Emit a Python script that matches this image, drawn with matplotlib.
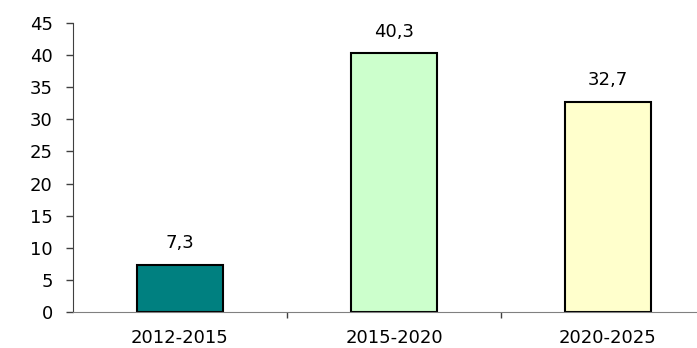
import matplotlib
matplotlib.use("Agg")
import matplotlib.pyplot as plt
from matplotlib.ticker import FixedLocator, NullFormatter

periods = ["2012-2015", "2015-2020", "2020-2025"]
values = [7.3, 40.3, 32.7]
value_labels = ["7,3", "40,3", "32,7"]
bar_colors = ["#008080", "#CCFFCC", "#FFFFCC"]
y_ticks = [0, 5, 10, 15, 20, 25, 30, 35, 40, 45]

plt.rcParams["font.family"] = ["DejaVu Sans"]

fig = plt.figure(figsize=(6.97, 3.48), dpi=100)
# axes run past the right edge, as in the original export
ax = fig.add_axes([73 / 697, 36 / 348, 642 / 697, 289 / 348])

xs = list(range(len(periods)))
ax.bar(xs, values, width=0.40, color=bar_colors, edgecolor="black", linewidth=1.5, zorder=3)

for x, v, lab in zip(xs, values, value_labels):
    ax.annotate(lab, (x, v), xytext=(0, 12), textcoords="offset points",
                ha="center", va="baseline", fontsize=13, color="black")

ax.set_xlim(-0.5, len(periods) - 0.5)
ax.set_ylim(0, 45)
ax.set_yticks(y_ticks)
ax.tick_params(axis="y", direction="out", length=5, width=1, color="#404040",
               pad=9.5, labelsize=13)

# boundary ticks between categories, labels centred under bars
ax.xaxis.set_major_locator(FixedLocator([x + 0.5 for x in xs]))
ax.xaxis.set_major_formatter(NullFormatter())
ax.xaxis.set_minor_locator(FixedLocator(xs))
ax.set_xticklabels(periods, minor=True)
ax.tick_params(axis="x", which="major", direction="out", length=4, width=1, color="#404040")
ax.tick_params(axis="x", which="minor", length=0, pad=12, labelsize=13)

for side in ("top", "right"):
    ax.spines[side].set_visible(False)
ax.spines["left"].set_color("#404040")
ax.spines["bottom"].set_color("#808080")
ax.spines["bottom"].set_zorder(4)

fig.savefig("out.png", dpi=100)
